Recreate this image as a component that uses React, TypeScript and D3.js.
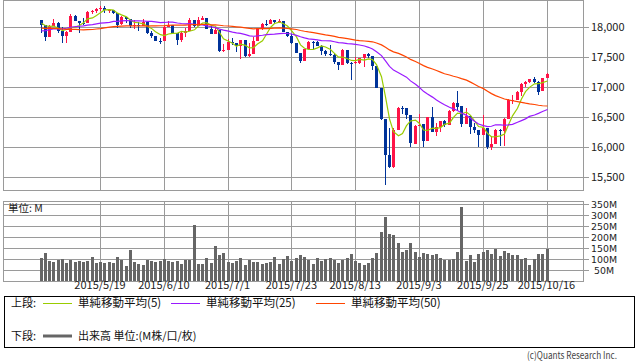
import React from "react";
import * as d3 from "d3";

const dates = [
  "2015/4/29","2015/4/30","2015/5/1","2015/5/4","2015/5/5","2015/5/6","2015/5/7","2015/5/8","2015/5/11","2015/5/12",
  "2015/5/13","2015/5/14","2015/5/15","2015/5/18","2015/5/19","2015/5/20","2015/5/21","2015/5/22","2015/5/26","2015/5/27",
  "2015/5/28","2015/5/29","2015/6/1","2015/6/2","2015/6/3","2015/6/4","2015/6/5","2015/6/8","2015/6/9","2015/6/10",
  "2015/6/11","2015/6/12","2015/6/15","2015/6/16","2015/6/17","2015/6/18","2015/6/19","2015/6/22","2015/6/23","2015/6/24",
  "2015/6/25","2015/6/26","2015/6/29","2015/6/30","2015/7/1","2015/7/2","2015/7/6","2015/7/7","2015/7/8","2015/7/9",
  "2015/7/10","2015/7/13","2015/7/14","2015/7/15","2015/7/16","2015/7/17","2015/7/20","2015/7/21","2015/7/22","2015/7/23",
  "2015/7/24","2015/7/27","2015/7/28","2015/7/29","2015/7/30","2015/7/31","2015/8/3","2015/8/4","2015/8/5","2015/8/6",
  "2015/8/7","2015/8/10","2015/8/11","2015/8/12","2015/8/13","2015/8/14","2015/8/17","2015/8/18","2015/8/19","2015/8/20",
  "2015/8/21","2015/8/24","2015/8/25","2015/8/26","2015/8/27","2015/8/28","2015/8/31","2015/9/1","2015/9/2","2015/9/3",
  "2015/9/4","2015/9/8","2015/9/9","2015/9/10","2015/9/11","2015/9/14","2015/9/15","2015/9/16","2015/9/17","2015/9/18",
  "2015/9/21","2015/9/22","2015/9/23","2015/9/24","2015/9/25","2015/9/28","2015/9/29","2015/9/30","2015/10/1","2015/10/2",
  "2015/10/5","2015/10/6","2015/10/7","2015/10/8","2015/10/9","2015/10/12","2015/10/13","2015/10/14","2015/10/15","2015/10/16",
];

const opens = [
  18110,18035,17841,18024,18070,17928,17842,17924,18191,18105,
  18068,18060,18252,18273,18299,18312,18285,18286,18232,18042,
  18163,18126,18011,18040,18012,18076,17906,17849,17767,17764,
  18000,18039,17899,17791,17904,17936,18116,18016,18120,18144,
  17966,17890,17947,17596,17620,17758,17730,17684,17777,17515,
  17549,17760,17978,18054,18050,18120,18086,18100,17919,17851,
  17732,17569,17441,17630,17751,17746,17690,17598,17551,17540,
  17420,17373,17615,17403,17403,17408,17477,17545,17511,17349,
  16991,16460,15871,15666,16286,16655,16643,16528,16058,16351,
  16375,16102,16493,16254,16330,16433,16371,16600,16740,16675,
  16385,16510,16330,16280,16201,16315,16002,16049,16285,16272,
  16472,16776,16790,16912,17051,17084,17132,17082,16925,17142,
];

const highs = [
  18115,18040,18030,18130,18075,18005,17940,18210,18200,18105,
  18150,18260,18290,18310,18350,18350,18300,18290,18232,18175,
  18160,18130,18110,18080,18130,18076,17930,17850,17820,18020,
  18105,18039,17899,17920,17990,18150,18116,18170,18185,18144,
  18030,18000,17947,17720,17800,17810,17730,17790,17777,17730,
  17830,17990,18060,18110,18130,18120,18140,18100,17920,17880,
  17740,17560,17640,17760,17760,17760,17700,17620,17700,17560,
  17420,17640,17615,17410,17500,17480,17550,17560,17511,17349,
  16991,16460,16312,16312,16660,16680,16640,16528,16360,16550,
  16375,16500,16664,16400,16440,16450,16620,16750,16933,16675,
  16650,16510,16400,16280,16540,16315,16180,16300,16300,16480,
  16800,16870,16940,17070,17100,17140,17160,17100,17150,17230,
];

const lows = [
  17900,17760,17840,18020,17900,17730,17740,17925,18100,17905,
  18040,18060,18220,18240,18270,18240,18230,18220,17990,18040,
  18060,17990,17970,17930,18010,17880,17820,17760,17720,17764,
  18000,17880,17700,17750,17830,17935,18000,18016,18110,17960,
  17885,17890,17590,17580,17620,17700,17590,17470,17500,17500,
  17549,17760,17950,18020,18050,18050,18060,17910,17840,17710,
  17560,17400,17430,17620,17630,17680,17530,17520,17520,17390,
  17290,17373,17380,17120,17380,17380,17340,17490,17280,16990,
  16450,15370,15650,15651,16286,16550,16460,16000,16060,16350,
  16000,16102,16244,16180,16250,16330,16370,16590,16600,16340,
  16380,16210,16230,16000,16200,15960,15950,16049,16010,16010,
  16472,16720,16780,16850,17000,17070,17060,16867,16925,17142,
];

const closes = [
  18035.53,17840.52,18024.06,18070.40,17928.20,17841.98,17924.06,18191.11,18105.17,18068.23,
  18060.49,18252.24,18272.56,18298.88,18312.39,18285.40,18285.74,18232.02,18041.54,18162.99,
  18126.12,18010.68,18040.37,18011.94,18076.27,17905.58,17849.46,17766.55,17764.04,18000.40,
  18039.37,17898.84,17791.17,17904.48,17935.74,18115.84,18015.95,18119.78,18144.07,17966.07,
  17890.36,17946.68,17596.35,17619.51,17757.91,17730.11,17683.58,17776.91,17515.42,17548.62,
  17760.41,17977.68,18053.58,18050.17,18120.25,18086.45,18100.41,17919.29,17851.04,17731.92,
  17568.53,17440.59,17630.27,17751.39,17745.98,17689.86,17598.20,17550.69,17540.47,17419.75,
  17373.38,17615.17,17402.84,17402.51,17408.25,17477.40,17545.18,17511.34,17348.73,16990.69,
  16459.75,15871.35,15666.44,16285.51,16654.77,16643.01,16528.03,16058.35,16351.38,16374.76,
  16102.38,16492.68,16253.57,16330.40,16433.09,16370.96,16599.85,16739.95,16674.74,16384.58,
  16510.19,16330.47,16279.89,16201.32,16314.67,16001.89,16049.13,16284.70,16272.01,16472.37,
  16776.43,16790.19,16912.29,17050.75,17084.49,17131.86,17081.89,16924.75,17141.75,17215.97,
];

// closes before the first visible day (needed for the moving averages)
const priorCloses = [
  18029.85,17985.77,18140.44,18116.84,18209.19,18224.57,18214.42,18132.70,
  18288.63,18203.37,18096.90,18135.72,17856.78,17995.72,17662.94,17635.39,17895.22,17749.31,
  17977.42,17849.08,18076.19,17959.03,18127.65,18116.04,18011.14,17718.54,17678.23,17712.66,
  17976.31,17776.12,
  17698.18,17763.24,17880.85,17875.42,17902.51,17958.73,18057.65,17977.04,18036.70,18112.61,
  18105.77,17826.30,18034.93,17949.59,18038.27,18058.69,18080.14,18037.97,18110.14,
];

const volumes = [
  106,128,93,88,97,100,82,96,88,91,
  88,91,110,84,86,82,87,84,110,96,
  70,141,87,79,74,96,89,87,91,100,
  89,87,91,79,94,96,256,79,79,107,
  82,160,119,128,86,82,91,107,74,97,
  87,87,78,84,87,110,79,100,113,91,
  107,119,109,96,79,104,91,100,107,96,
  82,96,107,124,91,82,74,82,107,128,
  224,292,215,210,174,132,141,174,132,110,
  128,124,119,124,107,96,96,100,132,338,
  91,119,87,124,132,141,124,146,114,137,
  128,119,119,100,107,74,100,124,124,146,
];

const priceTicks = [18000, 17500, 17000, 16500, 16000, 15500];
const volumeTicks = [50, 100, 150, 200, 250, 300, 350];
const dateTicks = ["2015/5/19","2015/6/10","2015/7/1","2015/7/23","2015/8/13","2015/9/3","2015/9/25","2015/10/16"];
const maPeriods = [5, 25, 50];
const maLabels = ["単純移動平均(5)", "単純移動平均(25)", "単純移動平均(50)"];
const maColors = ["#99cc00", "#9a1aff", "#ff4500"];

const FONT = "'Noto Sans CJK JP', 'Noto Sans', sans-serif";
const GRID = "#9a9a9a";
const UP = "#ff1447";
const DOWN = "#003399";

const L = 3.5, R = 583.5;
const TOP_T = 0.5, TOP_B = 190.5;
const VOL_T = 201.5, VOL_B = 281.5;

export default function App() {
  const x = d3.scaleLinear().domain([0, dates.length - 1]).range([40.5, 546.5]);
  const y = d3.scaleLinear().domain([15283, 18450]).range([190, 0]);
  const yv = d3.scaleLinear().domain([0, 365]).range([281, 201]);

  const full = priorCloses.concat(closes);
  const off = priorCloses.length;
  const maSeries = maPeriods.map((n) =>
    closes.map((_, i) => d3.mean(full.slice(off + i - n + 1, off + i + 1)) as number)
  );
  const line = d3
    .line<number>()
    .x((_, i) => Math.round(x(i)) + 0.5)
    .y((v) => y(v));

  const tickIdx = dateTicks.map((d) => dates.indexOf(d));

  return (
    <svg
      width={638}
      height={362}
      style={{ position: "absolute", left: 0, top: 0, background: "#fff" }}
      fontFamily={FONT}
    >
      <rect x={0} y={0} width={638} height={362} fill="#fff" />
      {/* panel grids */}
      <g shapeRendering="crispEdges" stroke={GRID} strokeWidth={1}>
        {priceTicks.map((t) => (
          <line key={"p" + t} x1={L} x2={589} y1={Math.round(y(t)) + 0.5} y2={Math.round(y(t)) + 0.5} />
        ))}
        {tickIdx.map((i) => (
          <line key={"vx" + i} x1={Math.round(x(i)) + 0.5} x2={Math.round(x(i)) + 0.5} y1={TOP_T} y2={TOP_B} />
        ))}
        <rect x={L} y={TOP_T} width={R - L} height={TOP_B - TOP_T} fill="none" />
        {volumeTicks.map((t) => (
          <line key={"v" + t} x1={L} x2={589} y1={Math.round(yv(t)) + 0.5} y2={Math.round(yv(t)) + 0.5} />
        ))}
        {tickIdx.map((i) => (
          <line key={"vv" + i} x1={Math.round(x(i)) + 0.5} x2={Math.round(x(i)) + 0.5} y1={VOL_T} y2={VOL_B} />
        ))}
        <rect x={L} y={VOL_T} width={R - L} height={VOL_B - VOL_T} fill="none" />
      </g>

      {/* candles */}
      <g shapeRendering="crispEdges">
        {closes.map((c, i) => {
          const o = opens[i];
          const col = c >= o ? UP : DOWN;
          const cx = Math.round(x(i));
          const yTop = Math.round(y(Math.max(o, c)));
          const yBot = Math.round(y(Math.min(o, c)));
          return (
            <g key={i}>
              <line x1={cx + 0.5} x2={cx + 0.5} y1={Math.round(y(highs[i]))} y2={Math.round(y(lows[i]))} stroke={col} />
              <rect x={cx - 1} y={yTop} width={3} height={Math.max(1, yBot - yTop)} fill={col} />
            </g>
          );
        })}
      </g>

      {/* moving averages */}
      {maSeries.map((s, k) => (
        <path key={k} d={line(s) || ""} fill="none" stroke={maColors[k]} strokeWidth={1.2} />
      ))}

      {/* volume bars */}
      <g shapeRendering="crispEdges" fill="#666">
        {volumes.map((v, i) => {
          const cx = Math.round(x(i));
          return <rect key={i} x={cx - 1} y={yv(v)} width={3} height={281 - yv(v)} />;
        })}
      </g>

      {/* price labels */}
      {priceTicks.map((t) => (
        <text key={"pl" + t} x={591} y={y(t) + 4} fontSize={11} fill="#222">
          {d3.format(",")(t)}
        </text>
      ))}
      {volumeTicks.map((t) => (
        <text key={"vl" + t} x={604} y={yv(t) + 3.5} fontSize={9.4} fill="#222" textAnchor="middle" fontFamily="'DejaVu Sans', sans-serif">
          {t + "M"}
        </text>
      ))}
      <text x={8} y={212} fontSize={10.5} fill="#222">単位: M</text>

      {/* date labels */}
      {tickIdx.map((i) => (
        <text key={"dl" + i} x={x(i)} y={289} fontSize={11} fill="#222" textAnchor="middle">
          {dates[i]}
        </text>
      ))}

      {/* legend */}
      <rect x={4.5} y={296.5} width={630} height={51} fill="none" stroke="#000" shapeRendering="crispEdges" />
      <text x={11} y={307} fontSize={11} fill="#111">上段:</text>
      {[43, 171, 316].map((lx, k) => (
        <g key={"lg" + k}>
          <line x1={lx} x2={lx + 29} y1={303.5} y2={303.5} stroke={maColors[k]} strokeWidth={1} />
          <text x={lx + 35} y={307} fontSize={11.5} fill="#111">{maLabels[k]}</text>
        </g>
      ))}
      <text x={11} y={340} fontSize={11} fill="#111">下段:</text>
      <line x1={43} x2={72} y1={336} y2={336} stroke="#666" strokeWidth={3} />
      <text x={78} y={340} fontSize={11} fill="#111">出来高 単位:(M株/口/枚)</text>

      <text x={617} y={359} fontSize={10} fill="#444" textAnchor="end" textLength={90} lengthAdjust="spacingAndGlyphs">
        (c)Quants Research Inc.
      </text>
    </svg>
  );
}
